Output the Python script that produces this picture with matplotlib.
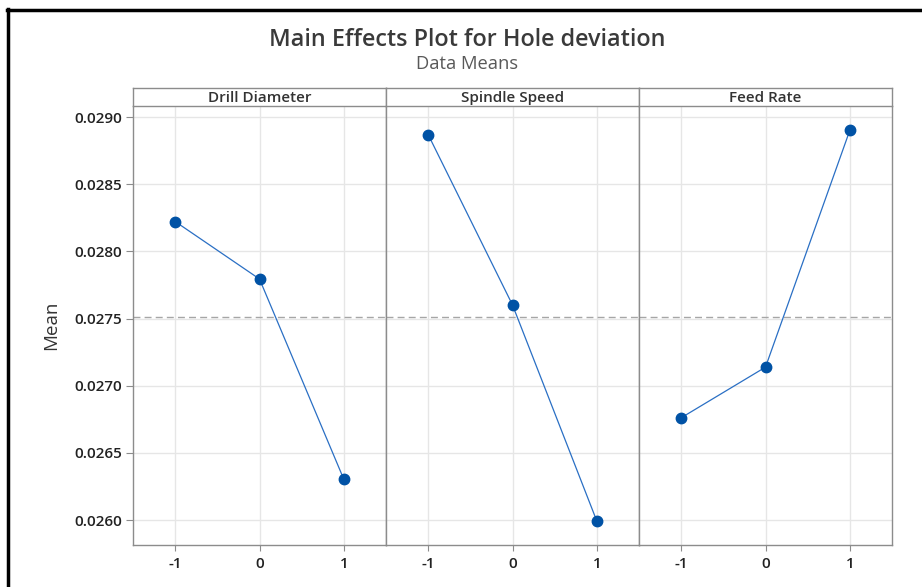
import matplotlib
matplotlib.use("Agg")
import matplotlib.pyplot as plt
from matplotlib.lines import Line2D
import numpy as np

# factor levels and the mean response at each level
levels = [-1, 0, 1]
factors = ["Drill Diameter", "Spindle Speed", "Feed Rate"]
drill_means = [0.028222, 0.027794, 0.026303]
spindle_means = [0.028869, 0.027601, 0.025992]
feed_means = [0.026761, 0.027138, 0.028901]
yticks = [0.0260, 0.0265, 0.0270, 0.0275, 0.0280, 0.0285, 0.0290]

all_means = [drill_means, spindle_means, feed_means]
grand_mean = np.mean(np.concatenate(all_means))

plt.rcParams['font.family'] = ['Open Sans', 'DejaVu Sans']

W, H = 922, 587
fig = plt.figure(figsize=(W / 100, H / 100), dpi=100)

left, right = 133 / W, 892 / W
bottom, top = 1 - 545 / H, 1 - 106 / H
strip_h = 18 / H
pw = (right - left) / 3

grid_c = "#e6e6e6"
spine_c = "#8c8c8c"
line_c = "#2a6fc4"
dot_c = "#0052a5"

for i, (name, vals) in enumerate(zip(factors, all_means)):
    ax = fig.add_axes([left + i * pw, bottom, pw, top - bottom])
    ax.plot(levels, vals, color=line_c, lw=0.9, marker="o", ms=7.5,
            mfc=dot_c, mec=dot_c, zorder=3)
    ax.axhline(grand_mean, color="#a6a6a6", lw=1.0, ls=(0, (5, 3)), zorder=2)
    ax.set_xlim(-1.5, 1.5)
    ax.set_ylim(0.025814, 0.029082)
    ax.set_xticks(levels)
    ax.set_xticklabels([str(v) for v in levels])
    ax.set_yticks(yticks)
    ax.grid(True, color=grid_c, lw=1.0, zorder=0)
    ax.set_axisbelow(True)
    for s in ax.spines.values():
        s.set_color(spine_c)
        s.set_linewidth(1.0)
    ax.spines['top'].set_visible(False)
    ax.tick_params(axis='x', length=4, color=spine_c, labelsize=11,
                   labelcolor="#222222", pad=5)
    if i == 0:
        ax.set_yticklabels([f"{v:.4f}" for v in yticks])
        ax.tick_params(axis='y', length=5, color=spine_c, labelsize=11,
                       labelcolor="#222222", pad=3)
        for lbl in ax.get_yticklabels() + ax.get_xticklabels():
            lbl.set_fontweight("semibold")
        ax.set_ylabel("Mean", fontsize=13.5, color="#333333", labelpad=10)
    else:
        ax.tick_params(axis='y', left=False, labelleft=False)
        for lbl in ax.get_xticklabels():
            lbl.set_fontweight("semibold")

    # panel header strip
    sx = fig.add_axes([left + i * pw, top, pw, strip_h])
    sx.set_xticks([])
    sx.set_yticks([])
    for s in sx.spines.values():
        s.set_color(spine_c)
        s.set_linewidth(1.0)
    sx.text(0.5, 0.45, name, ha="center", va="center", fontsize=11,
            fontweight="semibold", color="#333333", transform=sx.transAxes)

fig.text(467 / W, 1 - 40 / H, "Main Effects Plot for Hole deviation",
         ha="center", va="center", fontsize=16.8, fontweight="semibold",
         color="#3a3a3a")
fig.text(467 / W, 1 - 64 / H, "Data Means", ha="center", va="center",
         fontsize=13.2, color="#595959")

# frame around the figure (top and left edges)
fig.add_artist(Line2D([7 / W, 1.0], [1 - 9.5 / H, 1 - 9.5 / H],
                      transform=fig.transFigure, color="black", lw=2.5))
fig.add_artist(Line2D([8 / W, 8 / W], [0, 1 - 8.5 / H],
                      transform=fig.transFigure, color="black", lw=2.5))

fig.savefig("out.png", dpi=100)
